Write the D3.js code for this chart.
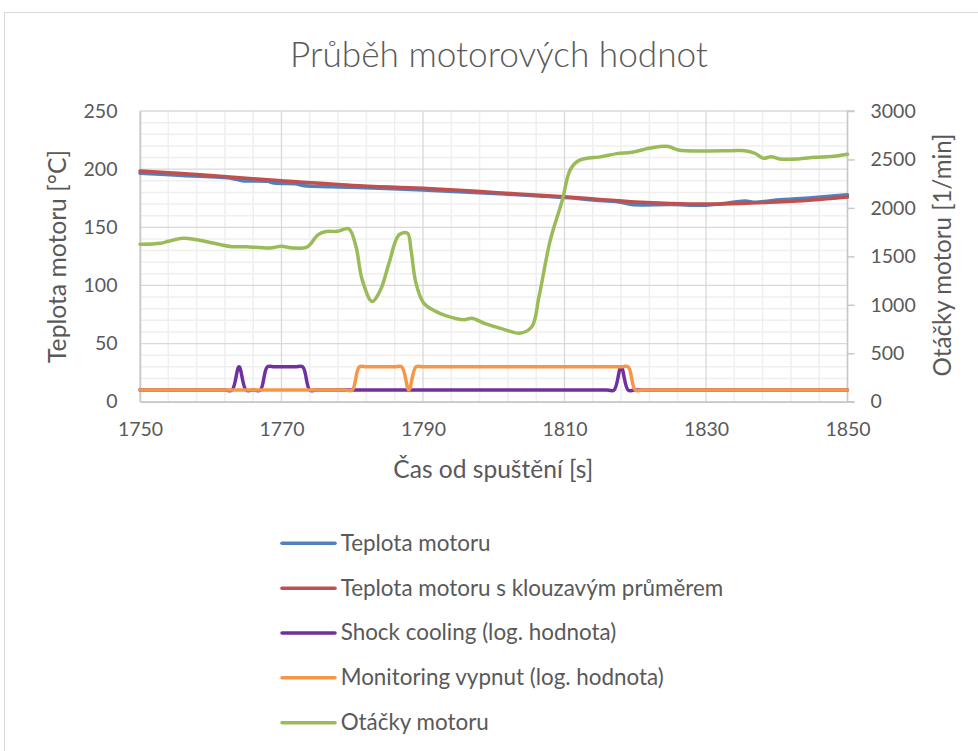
<!DOCTYPE html>
<html>
<head>
<meta charset="utf-8">
<script src="https://cdn.jsdelivr.net/npm/d3@7"></script>
<style>
  html, body { margin: 0; padding: 0; background: #fff; }
  svg { display: block; }
  text { font-family: Lato, "Open Sans", sans-serif; fill: #595959; }
</style>
</head>
<body>
<svg id="chart" width="978" height="751"></svg>
<script>
// ---------- DATA ----------
const chartTitle = "Průběh motorových hodnot";
const xTitle = "Čas od spuštění [s]";
const yLeftTitle = "Teplota motoru [°C]";
const yRightTitle = "Otáčky motoru [1/min]";

const xTicks = [1750, 1770, 1790, 1810, 1830, 1850];
const yLeftTicks = [0, 50, 100, 150, 200, 250];
const yRightTicks = [0, 500, 1000, 1500, 2000, 2500, 3000];

const seriesNames = [
  "Teplota motoru",
  "Teplota motoru s klouzavým průměrem",
  "Shock cooling (log. hodnota)",
  "Monitoring vypnut (log. hodnota)",
  "Otáčky motoru"
];
const seriesColors = ["#4F81BD", "#C0504D", "#7030A0", "#F79646", "#9BBB59"];

// Teplota motoru
const tempT = [1750, 1756, 1763, 1764.5, 1768, 1769, 1772, 1773, 1780, 1790, 1800, 1810, 1815, 1818, 1819.5, 1825, 1830, 1832, 1835.5, 1837, 1840, 1845, 1850];
const tempV = [196.5, 194.5, 192, 190, 189.5, 188, 187.5, 186, 184.5, 182, 179, 175.5, 173, 171.5, 169.5, 169.5, 169, 170, 172.5, 171.5, 173.5, 175.5, 178];

// Teplota motoru s klouzavým průměrem
const avgT = [1750, 1760, 1770, 1780, 1790, 1800, 1810, 1815, 1820, 1825, 1830, 1835, 1840, 1845, 1850];
const avgV = [198.5, 194.5, 190, 186, 183.5, 180, 176.2, 174, 171.8, 170.5, 170, 170.5, 171.8, 173.5, 176];

// Shock cooling (log. hodnota)
const shockT = [1750, 1762, 1763, 1764, 1765, 1766, 1767, 1768, 1769, 1770, 1771, 1772, 1773, 1774, 1775, 1816, 1817, 1818, 1819, 1820, 1850];
const shockV = [10, 10, 10, 30, 10, 10, 10, 30, 30, 30, 30, 30, 30, 10, 10, 10, 10, 30, 10, 10, 10];

// Monitoring vypnut (log. hodnota)
const monT = [1750, 1779, 1780, 1781, 1782, 1783, 1785, 1786, 1787, 1788, 1789, 1790, 1791, 1817, 1818, 1819, 1820, 1821, 1850];
const monV = [10, 10, 10, 30, 30, 30, 30, 30, 30, 10, 30, 30, 30, 30, 30, 30, 10, 10, 10];

// Otáčky motoru (secondary axis)
const rpmT = [1750, 1752.9, 1754, 1756, 1758, 1760.3, 1763, 1765, 1768.3, 1770, 1771.6, 1773.5, 1774.2, 1775.1, 1776.3, 1777.9, 1779.5, 1780.5, 1781.4, 1782.8, 1784, 1785.2, 1786.6, 1787.8, 1788.3, 1789, 1790.1, 1791.8, 1793.2, 1795.8, 1796.9, 1798.8, 1801.2, 1803.8, 1805.4, 1806.4, 1808, 1809.7, 1810.8, 1812, 1815.3, 1817.4, 1819.5, 1821.9, 1823.3, 1824.7, 1826.1, 1829.9, 1833.6, 1835.5, 1836.9, 1838.1, 1839.2, 1840.4, 1843, 1845.4, 1847.7, 1850];
const rpmV = [1625, 1636, 1655, 1687, 1672, 1638, 1600, 1600, 1586, 1603, 1586, 1592, 1636, 1720, 1756, 1758, 1785, 1610, 1260, 1035, 1155, 1430, 1722, 1740, 1570, 1225, 1018, 932, 888, 845, 862, 805, 752, 708, 776, 1086, 1670, 2082, 2392, 2488, 2529, 2560, 2574, 2615, 2632, 2634, 2598, 2588, 2590, 2590, 2564, 2512, 2529, 2505, 2505, 2522, 2530, 2553];

// ---------- LAYOUT ----------
const svg = d3.select("#chart");
const plot = { left: 140, right: 847.5, top: 111, bottom: 401.7 };

svg.append("rect").attr("x", 4.5).attr("y", 12.5).attr("width", 1100).attr("height", 900)
  .attr("fill", "#fff").attr("stroke", "#d9d9d9").attr("stroke-width", 1);

const x = d3.scaleLinear().domain([1750, 1850]).range([plot.left, plot.right]);
const yL = d3.scaleLinear().domain([0, 250]).range([plot.bottom, plot.top]);
const yR = d3.scaleLinear().domain([0, 3000]).range([plot.bottom, plot.top]);

// gridlines
const g = svg.append("g");
const minorX = d3.range(1750, 1851, 4).filter(v => (v - 1750) % 20 !== 0);
const minorY = d3.range(0, 251, 10).filter(v => v % 50 !== 0);
g.selectAll(".mx").data(minorX).join("line")
  .attr("x1", d => x(d)).attr("x2", d => x(d)).attr("y1", plot.top).attr("y2", plot.bottom)
  .attr("stroke", "#efefef").attr("stroke-width", 1.5);
g.selectAll(".my").data(minorY).join("line")
  .attr("x1", plot.left).attr("x2", plot.right).attr("y1", d => yL(d)).attr("y2", d => yL(d))
  .attr("stroke", "#efefef").attr("stroke-width", 1.5);
g.selectAll(".Mx").data(xTicks).join("line")
  .attr("x1", d => x(d)).attr("x2", d => x(d)).attr("y1", plot.top).attr("y2", plot.bottom)
  .attr("stroke", "#d9d9d9").attr("stroke-width", 1.3);
g.selectAll(".My").data(yLeftTicks).join("line")
  .attr("x1", plot.left).attr("x2", plot.right).attr("y1", d => yL(d)).attr("y2", d => yL(d))
  .attr("stroke", "#d9d9d9").attr("stroke-width", 1.3);

// axes
const axisColor = "#c8c8c8";
const fs = 19.5;
const axL = svg.append("g").attr("transform", `translate(${plot.left},0)`)
  .call(d3.axisLeft(yL).tickValues(yLeftTicks).tickFormat(d3.format("d")).tickSize(0).tickPadding(22.5));
const axR = svg.append("g").attr("transform", `translate(${plot.right},0)`)
  .call(d3.axisRight(yR).tickValues(yRightTicks).tickFormat(d3.format("d")).tickSize(7).tickPadding(16));
const axB = svg.append("g").attr("transform", `translate(0,${plot.bottom})`)
  .call(d3.axisBottom(x).tickValues(xTicks).tickFormat(d3.format("d")).tickSize(0).tickPadding(20));
[axL, axR, axB].forEach(a => {
  a.select(".domain").attr("stroke", axisColor).attr("stroke-width", 1.5);
  a.selectAll(".tick line").attr("stroke", axisColor).attr("stroke-width", 1.5);
  a.selectAll("text").attr("font-size", fs).attr("fill", "#595959")
    .attr("font-family", "Lato, 'Open Sans', sans-serif");
});
axR.select(".domain").attr("d", `M7,${plot.top}H0V${plot.bottom}H7`);

// series
const curve = d3.curveCatmullRom.alpha(0.5);
const lineL = d3.line().x(d => x(d[0])).y(d => yL(d[1])).curve(curve);
const lineR = d3.line().x(d => x(d[0])).y(d => yR(d[1])).curve(curve);
const zip = (a, b) => a.map((t, i) => [t, b[i]]);

const series = [
  { pts: zip(tempT, tempV), gen: lineL, c: seriesColors[0] },
  { pts: zip(avgT, avgV), gen: lineL, c: seriesColors[1] },
  { pts: zip(shockT, shockV), gen: lineL, c: seriesColors[2] },
  { pts: zip(monT, monV), gen: lineL, c: seriesColors[3] },
  { pts: zip(rpmT, rpmV), gen: lineR, c: seriesColors[4] }
];
svg.append("g").selectAll("path").data(series).join("path")
  .attr("d", s => s.gen(s.pts)).attr("fill", "none").attr("stroke", s => s.c)
  .attr("stroke-width", 3.5).attr("stroke-linejoin", "round").attr("stroke-linecap", "round");

// text helper fit to width
function fit(sel, target) {
  const w = sel.node().getComputedTextLength();
  const f = parseFloat(sel.attr("font-size"));
  sel.attr("font-size", f * target / w);
}

// title
const t = svg.append("text").attr("x", 499).attr("y", 67).attr("text-anchor", "middle")
  .attr("font-size", 30).attr("font-weight", 300).text(chartTitle);
fit(t, 418);

// axis titles
const xt = svg.append("text").attr("x", 493.3).attr("y", 478).attr("text-anchor", "middle")
  .attr("font-size", 21).text(xTitle);
fit(xt, 200);
const ylt = svg.append("text").attr("transform", "translate(65.5,256.5) rotate(-90)")
  .attr("text-anchor", "middle").attr("font-size", 21).text(yLeftTitle);
fit(ylt, 213);
const yrt = svg.append("text").attr("transform", "translate(950.5,255) rotate(-90)")
  .attr("text-anchor", "middle").attr("font-size", 21).text(yRightTitle);
fit(yrt, 243);

// legend
const lg = svg.append("g");
const rowY = i => 543.3 + i * 44.85;
lg.selectAll("line").data(seriesNames).join("line")
  .attr("x1", 282).attr("x2", 335).attr("y1", (d, i) => rowY(i)).attr("y2", (d, i) => rowY(i))
  .attr("stroke", (d, i) => seriesColors[i]).attr("stroke-width", 3.5).attr("stroke-linecap", "round");
const lt = lg.selectAll("text").data(seriesNames).join("text")
  .attr("x", 340.7).attr("y", (d, i) => rowY(i) + 7.4).attr("font-size", 21).text(d => d);
const w2 = lt.nodes()[1].getComputedTextLength();
lt.attr("font-size", 21 * 383 / w2);
</script>
</body>
</html>
